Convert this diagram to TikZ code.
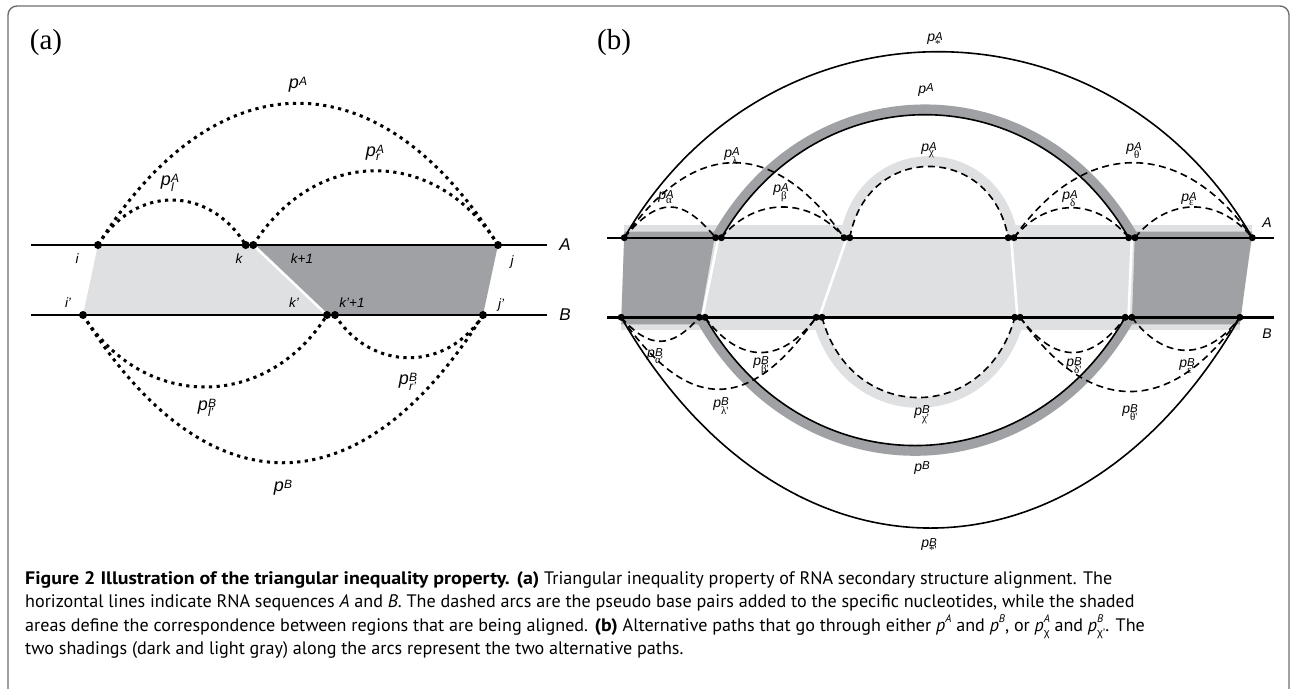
\documentclass[tikz,border=0pt]{standalone}
\usepackage{fontspec}
\setmainfont{Liberation Sans}
\newfontfamily\figfont{Liberation Serif}
\newfontfamily\capfont{PT Sans}[BoldFeatures={FakeStretch=1.1}]
\usetikzlibrary{positioning}
\usetikzlibrary{calc}
\definecolor{darkShade}{HTML}{A0A1A5}
\definecolor{lightShade}{HTML}{DFE0E2}
\definecolor{frameColor}{HTML}{6E6E70}

\newcommand{\supsz}{}
\newcommand{\subsz}{}
\newcommand{\supup}{0.15em}
\newcommand{\pl}[2]{\textit{p}\raisebox{\supup}{\vtop{\offinterlineskip\hbox{\supsz\textit{#1}}\kern0.4pt\hbox{\subsz #2}}}}
\newcommand{\pu}[1]{\textit{p}\raisebox{\supup}{\supsz\textit{#1}}}
\newcommand{\cpl}[2]{\textit{p}\rlap{\raisebox{0.45em}{\fontsize{11}{11}\selectfont\textit{#1}}}\raisebox{-0.3em}{\fontsize{11}{11}\selectfont #2}}
\newcommand{\cpu}[1]{\textit{p}\raisebox{0.45em}{\fontsize{11}{11}\selectfont\textit{#1}}}

\tikzset{
  dotarc/.style={line width=3pt, dash pattern=on 3.2pt off 4.4pt},
  dasharc/.style={line width=1.6pt, dash pattern=on 7pt off 4.5pt},
  solidarc/.style={line width=1.6pt},
  seqa/.style={line width=2.8pt},
  seqb/.style={line width=2.4pt},
  sepline/.style={white, line width=2.6pt},
  lightband/.style={lightShade, line width=13pt},
  pathstroke/.style={line width=10pt},
  panlab/.style={font=\figfont\fontsize{29}{32}\selectfont, inner sep=0pt},
  poslab/.style={font=\fontsize{13.5}{13.5}\selectfont\itshape, inner sep=0pt},
  seqlaba/.style={font=\fontsize{17}{17}\selectfont\itshape, inner sep=0pt},
  seqlabb/.style={font=\fontsize{14}{14}\selectfont\itshape, inner sep=0pt},
  plaba/.style={inner sep=0pt, font=\fontsize{18}{18}\selectfont\def\supsz{\fontsize{12}{12}\selectfont}\def\subsz{\fontsize{12}{12}\selectfont\itshape}\def\supup{0.15em}},
  plabb/.style={inner sep=0pt, font=\fontsize{14}{14}\selectfont\def\supsz{\fontsize{11.5}{11.5}\selectfont}\def\subsz{\fontsize{11}{11}\selectfont\figfont}\def\supup{0.08em}},
  capnode/.style={font=\capfont\fontsize{18.1}{23.5}\selectfont, align=left, inner sep=0pt}
}

\begin{document}
\begin{tikzpicture}[x=1pt,y=-1pt]
\useasboundingbox (0,0) rectangle (1292,688);
\draw[frameColor, line width=1.4pt, rounded corners=9pt] (8,700) -- (8,6) -- (1289,6) -- (1289,700);

\node[panlab] (laba) at (46,43) {(a)};
\node[panlab] (labb) at (614,43) {(b)};

\coordinate (aAl) at (31,245);
\coordinate (aAr) at (547,245);
\coordinate (aBl) at (31,315);
\coordinate (aBr) at (547,315);
\coordinate (i) at (98,245);
\coordinate (k) at (245.7,245);
\coordinate (kk) at (253.3,245);
\coordinate (j) at (498,245);
\coordinate (ii) at (83,315);
\coordinate (kp) at (327,315);
\coordinate (kkp) at (335,315);
\coordinate (jp) at (483,315);

\fill[lightShade] (i) -- (kk) -- (kp) -- (ii) -- cycle;
\fill[darkShade] (kk) -- (j) -- (jp) -- (kp) -- cycle;
\draw[sepline] (kk) -- (kp);

\draw[seqa] (aAl) -- (aAr);
\draw[seqa] (aBl) -- (aBr);

\draw[dotarc] (i) .. controls +(118,-189) and +(-118,-189) .. (j);
\draw[dotarc] (i) .. controls +(37,-60) and +(-37,-60) .. (k);
\draw[dotarc] (kk) .. controls +(62,-99) and +(-62,-99) .. (j);
\draw[dotarc] (ii) .. controls +(60,96) and +(-60,96) .. (kp);
\draw[dotarc] (kkp) .. controls +(36,57) and +(-36,57) .. (jp);
\draw[dotarc] (ii) .. controls +(123,197) and +(-123,197) .. (jp);

\foreach \pt in {i,k,kk,j,ii,kp,kkp,jp}
  \fill (\pt) circle (4pt);

\node[seqlaba] (nameA) at (565,245) {A};
\node[seqlaba] (nameB) at (565,315) {B};
\node[poslab] (labi) at (77,259) {i};
\node[poslab] (labk) at (239,259) {k};
\node[poslab] (labkk) at (302,259) {k+1};
\node[poslab] (labj) at (512,262) {j};
\node[poslab] (labii) at (68,303) {i'};
\node[poslab] (labkp) at (294,303) {k'};
\node[poslab] (labkkp) at (352,303) {k'+1};
\node[poslab] (labjp) at (501,305) {j'};

\node[plaba] (lpA) at (298,85) {\pu{A}};
\node[plaba] (lpAr) at (375,153) {\pl{A}{r}};
\node[plaba] (lpAl) at (170,183) {\pl{A}{l}};
\node[plaba] (lpBl) at (207,408) {\pl{B}{l'}};
\node[plaba] (lpBr) at (408,382) {\pl{B}{r'}};
\node[plaba] (lpB) at (283,488) {\pu{B}};

\coordinate (bAl) at (607,237.7);
\coordinate (bAr) at (1274,237.7);
\coordinate (bBl) at (607,317.3);
\coordinate (bBr) at (1274,317.3);
\coordinate (a0) at (624.3,237.7);
\coordinate (a1) at (715.6,237.7);
\coordinate (a1p) at (721.4,237.7);
\coordinate (a2) at (844,237.7);
\coordinate (a2p) at (849.8,237.7);
\coordinate (a3) at (1008.2,237.7);
\coordinate (a3p) at (1014,237.7);
\coordinate (a4) at (1128.7,237.7);
\coordinate (a4p) at (1134.9,237.7);
\coordinate (a5) at (1252.3,237.7);
\coordinate (b0) at (621.2,317.3);
\coordinate (b1) at (699.3,317.3);
\coordinate (b1p) at (705,317.3);
\coordinate (b2) at (816.2,317.3);
\coordinate (b2p) at (822,317.3);
\coordinate (b3) at (1014.8,317.3);
\coordinate (b3p) at (1020.1,317.3);
\coordinate (b4) at (1125.2,317.3);
\coordinate (b4p) at (1131.8,317.3);
\coordinate (b5) at (1239.9,317.3);

\fill[lightShade] (a0) -- (a5) -- (b5) -- (b0) -- cycle;
\draw[lightband] ([yshift=6.5pt]a0) -- ([yshift=6.5pt]a2p);
\draw[lightband] ([yshift=6.5pt]a3) -- ([yshift=6.5pt]a5);
\draw[lightband] ([yshift=-6.5pt]b0) -- ([yshift=-6.5pt]b2p);
\draw[lightband] ([yshift=-6.5pt]b3) -- ([yshift=-6.5pt]b5);
\fill[darkShade] ([yshift=6pt]a0) -- ([yshift=6pt]a1) -- ([yshift=-7pt]b1) -- ([yshift=-7pt]b0) -- cycle;
\fill[darkShade] ([yshift=6pt]a4p) -- ([yshift=6pt]a5) -- ([yshift=-7pt]b5) -- ([yshift=-7pt]b4p) -- cycle;

\draw[pathstroke, darkShade] ([xshift=-5pt]a1p) .. controls +(95,-171) and +(-95,-171) .. ([xshift=5pt]a4);
\draw[pathstroke, lightShade] ([xshift=-5pt]a2p) .. controls +(17,-102) and +(-17,-102) .. ([xshift=5pt]a3);
\draw[pathstroke, darkShade] ([xshift=-5pt]b1p) .. controls +(99,178) and +(-99,178) .. ([xshift=5pt]b4);
\draw[pathstroke, lightShade] ([xshift=-5pt]b2p) .. controls +(29,114) and +(-29,114) .. ([xshift=5pt]b3);

\draw[sepline] ($(a1)!.5!(a1p)$) -- ($(b1)!.5!(b1p)$);
\draw[sepline] ($(a2)!.5!(a2p)$) -- ($(b2)!.5!(b2p)$);
\draw[sepline] ($(a3)!.5!(a3p)$) -- ($(b3)!.5!(b3p)$);
\draw[sepline] ($(a4)!.5!(a4p)$) -- ($(b4)!.5!(b4p)$);

\draw[seqb] (bAl) -- (bAr);
\draw[seqb] (bBl) -- (bBr);

\draw[solidarc] (a0) .. controls +(143,-248) and +(-143,-248) .. (a5);
\draw[solidarc] (a1p) .. controls +(95,-164) and +(-95,-164) .. (a4);
\draw[dasharc] (a2p) .. controls +(17,-95) and +(-17,-95) .. (a3);
\draw[dasharc] (a0) .. controls +(34,-41) and +(-34,-41) .. (a1);
\draw[dasharc] (a1p) .. controls +(34,-41) and +(-34,-41) .. (a2);
\draw[dasharc] (a0) .. controls +(70,-100) and +(-70,-100) .. (a2);
\draw[dasharc] (a3p) .. controls +(33,-40) and +(-33,-40) .. (a4);
\draw[dasharc] (a4p) .. controls +(34,-41) and +(-34,-41) .. (a5);
\draw[dasharc] (a3p) .. controls +(70,-100) and +(-70,-100) .. (a5);

\draw[solidarc] (b0) .. controls +(162,281) and +(-162,281) .. (b5);
\draw[solidarc] (b1p) .. controls +(99,171) and +(-99,171) .. (b4);
\draw[dasharc] (b2p) .. controls +(29,107) and +(-29,107) .. (b3);
\draw[dasharc] (b0) .. controls +(28,32) and +(-28,32) .. (b1);
\draw[dasharc] (b1p) .. controls +(35,47) and +(-35,47) .. (b2);
\draw[dasharc] (b0) .. controls +(67,96) and +(-67,96) .. (b2);
\draw[dasharc] (b3p) .. controls +(35,47) and +(-35,47) .. (b4);
\draw[dasharc] (b3p) .. controls +(69,99) and +(-69,99) .. (b5);
\draw[dasharc] (b4p) .. controls +(33,44) and +(-33,44) .. (b5);

\foreach \pt in {a0,a1,a1p,a2,a2p,a3,a3p,a4,a4p,a5,b0,b1,b1p,b2,b2p,b3,b3p,b4,b4p,b5}
  \fill (\pt) circle (3.5pt);

\node[seqlabb] (nameAb) at (1267,223) {A};
\node[seqlabb] (nameBb) at (1267,334) {B};

\node[plabb] (lpAstar) at (935,40) {\pl{A}{*}};
\node[plabb] (lpAb) at (926,90) {\pu{A}};
\node[plabb] (lpAchi) at (929,150) {\pl{A}{χ}};
\node[plabb] (lpAlambda) at (732,156) {\pl{A}{λ}};
\node[plabb] (lpAtheta) at (1134,151) {\pl{A}{θ}};
\node[plabb] (lpAalpha) at (666,197) {\pl{A}{α}};
\node[plabb] (lpAbeta) at (781,193) {\pl{A}{β}};
\node[plabb] (lpAdelta) at (1070,199) {\pl{A}{δ}};
\node[plabb] (lpAeps) at (1189,199) {\pl{A}{ε}};
\node[plabb] (lpBalpha) at (655,356) {\pl{B}{α'}};
\node[plabb] (lpBbeta) at (761,366) {\pl{B}{β'}};
\node[plabb] (lpBlambda) at (721,406) {\pl{B}{λ'}};
\node[plabb] (lpBchi) at (922,415) {\pl{B}{χ'}};
\node[plabb] (lpBdelta) at (1074,366) {\pl{B}{δ'}};
\node[plabb] (lpBtheta) at (1130,413) {\pl{B}{θ'}};
\node[plabb] (lpBeps) at (1187,366) {\pl{B}{ε'}};
\node[plabb] (lpBb) at (922,468) {\pu{B}};
\node[plabb] (lpBstar) at (929,546) {\pl{B}{*'}};

\node[capnode, anchor=north west] (caption) at (25,571) {\textbf{Figure 2 Illustration of the triangular inequality property. (a)} Triangular inequality property of RNA secondary structure alignment. The\\
horizontal lines indicate RNA sequences \textit{A} and \textit{B}. The dashed arcs are the pseudo base pairs added to the specific nucleotides, while the shaded\\
areas define the correspondence between regions that are being aligned. \textbf{(b)} Alternative paths that go through either \cpu{A} and \cpu{B}, or \cpl{A}{{\rmfamily χ}} and \cpl{B}{{\rmfamily χ'}}. The\\
two shadings (dark and light gray) along the arcs represent the two alternative paths.};
\end{tikzpicture}
\end{document}
